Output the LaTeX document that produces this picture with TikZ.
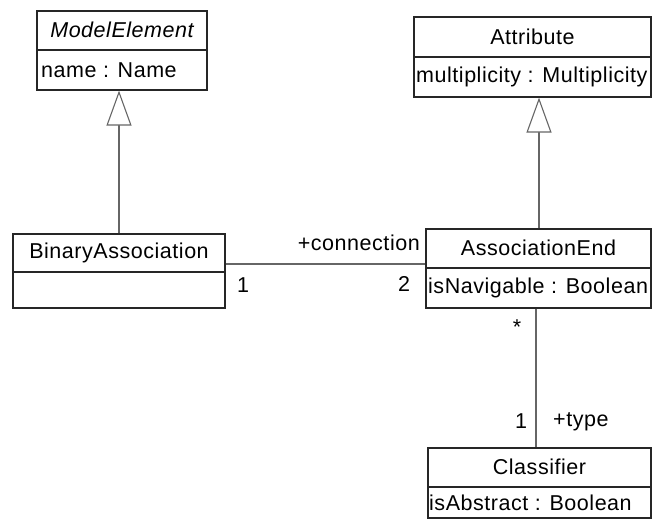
\documentclass[tikz,border=0pt]{standalone}
\usepackage{fontspec}
\setmainfont[LetterSpace=2.5]{Liberation Sans}
\usetikzlibrary{arrows.meta}
\begin{document}
\begin{tikzpicture}[x=1pt,y=-1pt,
  every node/.style={font=\fontsize{21.5}{26}\selectfont, inner sep=0pt},
  classbox/.style={draw=black!85, line width=1.2pt, fill=white, rectangle},
  divider/.style={draw=black!85, line width=1.2pt},
  link/.style={draw=black!60, line width=1.3pt},
  gen/.style={link, -{Triangle[open,length=35pt,width=25pt,line width=1.1pt,fill=white]}},
  attr/.style={anchor=west}
]
\useasboundingbox (0,0) rectangle (653,524);

% ModelElement
\node[classbox, minimum width=170pt, minimum height=79pt] (me) at (122,50.5) {};
\draw[divider] (37,50) -- (207,50);
\node (meT) at (122,30) {\itshape ModelElement};
\node[attr] (meA) at (41,70) {name : Name};

% Attribute
\node[classbox, minimum width=237pt, minimum height=80pt] (at) at (532.5,57) {};
\draw[divider] (414,57) -- (651,57);
\node (atT) at (532.5,37) {Attribute};
\node[attr] (atA) at (416,77) {multiplicity : Multiplicity};

% BinaryAssociation
\node[classbox, minimum width=212pt, minimum height=74pt] (ba) at (119,271) {};
\draw[divider] (13,272) -- (225,272);
\node (baT) at (119,253) {BinaryAssociation};

% AssociationEnd
\node[classbox, minimum width=225pt, minimum height=79pt] (ae) at (538.5,268.5) {};
\draw[divider] (426,268) -- (651,268);
\node (aeT) at (538.5,248) {AssociationEnd};
\node[attr] (aeA) at (428,288) {isNavigable : Boolean};

% Classifier
\node[classbox, minimum width=223pt, minimum height=70pt] (cl) at (539.5,483) {};
\draw[divider] (428,487) -- (651,487);
\node (clT) at (539.5,467) {Classifier};
\node[attr] (clA) at (429,503) {isAbstract : Boolean};

% generalizations
\coordinate (g1) at (119,0);
\coordinate (g2) at (539,0);
\draw[gen] (ba.north -| g1) -- (me.south -| g1);
\draw[gen] (ae.north -| g2) -- (at.south -| g2);

% associations
\coordinate (a1) at (0,264);
\coordinate (a2) at (536,0);
\draw[link] (ba.east |- a1) -- (ae.west |- a1);
\draw[link] (ae.south -| a2) -- (cl.north -| a2);

% association end labels
\node[anchor=east] (lconn) at (420,243) {+connection};
\node (m1) at (243,285) {1};
\node (m2) at (404,284) {2};
\node (mstar) at (517,327) {*};
\node (m3) at (521,421) {1};
\node[anchor=west] (ltype) at (553,422) {+type};
\end{tikzpicture}
\end{document}
